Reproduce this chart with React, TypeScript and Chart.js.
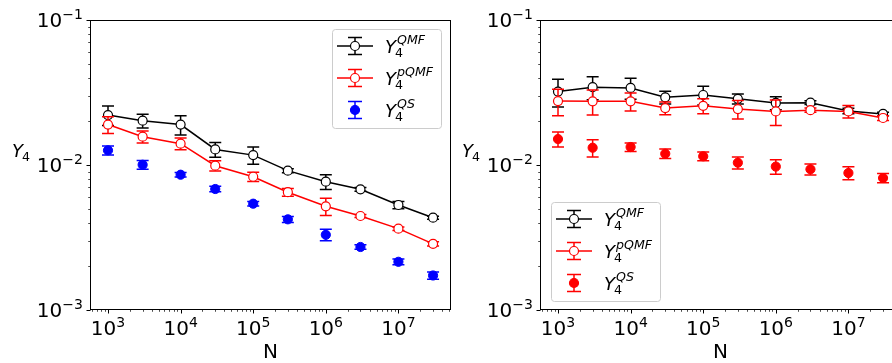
import React, { useEffect, useRef } from "react";
import { Chart, registerables } from "chart.js";

Chart.register(...registerables);

// ---------- data ----------
const N_VALUES = [1e3, 3e3, 1e4, 3e4, 1e5, 3e5, 1e6, 3e6, 1e7, 3e7];

// tick labels: "10" with a superscript exponent
const X_TICK_EXPONENTS = [3, 4, 5, 6, 7];
const X_TICK_SUPS = ["3", "4", "5", "6", "7"];
const Y_TICK_EXPONENTS = [-3, -2, -1];
const Y_TICK_SUPS = ["\u22123", "\u22122", "\u22121"];
const TICK_BASE = "10";

const X_AXIS_TITLE = "N";
const Y_AXIS_BASE = "Y";
const Y_AXIS_SUB = "4";

const SERIES_SUPS = ["QMF", "pQMF", "QS"];

const X_MIN = 565;
const X_MAX = 5.3e7;
const Y_MIN = 1e-3;
const Y_MAX = 1e-1;

// left panel
const LEFT_QMF = [0.0221, 0.0202, 0.019, 0.0128, 0.0117, 0.00914, 0.00767, 0.0068, 0.0053, 0.00433];
const LEFT_QMF_ERR = [0.0034, 0.0022, 0.0029, 0.0015, 0.0016, 0.0003, 0.0009, 0.0002, 0.0003, 0.0001];
const LEFT_PQMF = [0.019, 0.01567, 0.01403, 0.00989, 0.0083, 0.00649, 0.00519, 0.00445, 0.00364, 0.00286];
const LEFT_PQMF_ERR = [0.0025, 0.0015, 0.0013, 0.0008, 0.0006, 0.0004, 0.0007, 0.0001, 0.0001, 0.0001];
const LEFT_QS = [0.01262, 0.01004, 0.00857, 0.00683, 0.00541, 0.00422, 0.0033, 0.00272, 0.00215, 0.00173];
const LEFT_QS_ERR = [0.0009, 0.0007, 0.0003, 0.0003, 0.0002, 0.0002, 0.0003, 0.0001, 0.0001, 0.0001];

// right panel
const RIGHT_QMF = [0.0321, 0.0344, 0.034, 0.0293, 0.0304, 0.0286, 0.0268, 0.0269, 0.0236, 0.0225];
const RIGHT_QMF_ERR = [0.007, 0.0062, 0.0056, 0.003, 0.0045, 0.0023, 0.0028, 0.0008, 0.001, 0.0006];
const RIGHT_PQMF = [0.0276, 0.0275, 0.0275, 0.0247, 0.0256, 0.0243, 0.0234, 0.0239, 0.0234, 0.0211];
const RIGHT_PQMF_ERR = [0.0057, 0.0054, 0.0039, 0.0025, 0.003, 0.0035, 0.0047, 0.0008, 0.0023, 0.0008];
const RIGHT_QS = [0.0151, 0.01316, 0.0133, 0.01197, 0.01148, 0.01037, 0.00975, 0.00934, 0.00881, 0.00813];
const RIGHT_QS_ERR = [0.0018, 0.0018, 0.0009, 0.0009, 0.0008, 0.001, 0.0011, 0.0008, 0.0009, 0.0006];

// ---------- helpers ----------
const FONT = "'DejaVu Sans', sans-serif";
const TICK_SIZE = 20;
const TICK_SUP_SIZE = 14;

function isPow10(v: number) {
  const l = Math.log10(v);
  return Math.abs(l - Math.round(l)) < 1e-6;
}

function logTicks(min: number, max: number) {
  const out: { value: number }[] = [];
  const e0 = Math.floor(Math.log10(min));
  const e1 = Math.ceil(Math.log10(max));
  for (let e = e0; e <= e1; e++) {
    for (let m = 1; m <= 9; m++) {
      const v = m * Math.pow(10, e);
      if (v >= min * 0.999999 && v <= max * 1.000001) out.push({ value: v });
    }
  }
  return out;
}

function drawMathLabel(ctx: CanvasRenderingContext2D, x: number, baseY: number, sup: string | null, big: number) {
  const small = big * 0.7;
  ctx.fillStyle = "#000";
  ctx.textAlign = "left";
  ctx.textBaseline = "alphabetic";
  ctx.font = `italic ${big}px ${FONT}`;
  ctx.fillText(Y_AXIS_BASE, x, baseY);
  const w = ctx.measureText(Y_AXIS_BASE).width;
  ctx.font = `${small}px ${FONT}`;
  ctx.fillText(Y_AXIS_SUB, x + w - 1, baseY + 4);
  if (sup) {
    ctx.font = `italic ${small}px ${FONT}`;
    ctx.fillText(sup, x + w + 1, baseY - 9);
  }
}

function drawErrorBar(ctx: CanvasRenderingContext2D, x: number, yTop: number, yBot: number, cap: number, color: string) {
  ctx.strokeStyle = color;
  ctx.lineWidth = 1.5;
  ctx.beginPath();
  ctx.moveTo(x, yTop);
  ctx.lineTo(x, yBot);
  ctx.moveTo(x - cap, yTop);
  ctx.lineTo(x + cap, yTop);
  ctx.moveTo(x - cap, yBot);
  ctx.lineTo(x + cap, yBot);
  ctx.stroke();
}

function tickSup(v: number, exps: number[], sups: string[]) {
  if (!isPow10(v)) return null;
  const i = exps.indexOf(Math.round(Math.log10(v)));
  return i >= 0 ? sups[i] : null;
}

const decorPlugin = {
  id: "decor",
  beforeDatasetDraw(chart: any, args: any) {
    const ds = chart.data.datasets[args.index];
    if (!ds.errors) return;
    const ctx = chart.ctx as CanvasRenderingContext2D;
    const xs = chart.scales.x;
    const ys = chart.scales.y;
    const a = chart.chartArea;
    ctx.save();
    ctx.beginPath();
    ctx.rect(a.left, a.top, a.right - a.left, a.bottom - a.top);
    ctx.clip();
    ds.data.forEach((p: any, i: number) => {
      const e = ds.errors[i];
      const px = xs.getPixelForValue(p.x);
      const yT = ys.getPixelForValue(p.y + e);
      const yB = ys.getPixelForValue(Math.max(p.y - e, 1e-9));
      drawErrorBar(ctx, px, yT, yB, 6, ds.errColor);
    });
    ctx.restore();
  },
  afterDraw(chart: any) {
    const ctx = chart.ctx as CanvasRenderingContext2D;
    const a = chart.chartArea;
    const xs = chart.scales.x;
    const ys = chart.scales.y;
    ctx.save();
    // frame
    ctx.strokeStyle = "#000";
    ctx.lineWidth = 1;
    const L = Math.round(a.left) + 0.5;
    const R = Math.round(a.right) - 0.5;
    const T = Math.round(a.top) + 0.5;
    const B = Math.round(a.bottom) - 0.5;
    ctx.strokeRect(L, T, R - L, B - T);
    // tick marks + labels
    ctx.fillStyle = "#000";
    ctx.textBaseline = "alphabetic";
    ctx.textAlign = "left";
    xs.ticks.forEach((t: any) => {
      const raw = xs.getPixelForValue(t.value);
      const px = Math.round(raw) + 0.5;
      const major = isPow10(t.value);
      ctx.lineWidth = major ? 1 : 0.7;
      ctx.beginPath();
      ctx.moveTo(px, B);
      ctx.lineTo(px, B + (major ? 4 : 2.3));
      ctx.stroke();
      const sup = tickSup(t.value, X_TICK_EXPONENTS, X_TICK_SUPS);
      if (sup) {
        ctx.font = `${TICK_SIZE}px ${FONT}`;
        const wb = ctx.measureText(TICK_BASE).width;
        ctx.font = `${TICK_SUP_SIZE}px ${FONT}`;
        const ws = ctx.measureText(sup).width;
        const x0 = raw - (wb + ws) / 2;
        ctx.font = `${TICK_SIZE}px ${FONT}`;
        ctx.fillText(TICK_BASE, x0, a.bottom + 24.5);
        ctx.font = `${TICK_SUP_SIZE}px ${FONT}`;
        ctx.fillText(sup, x0 + wb, a.bottom + 16.5);
      }
    });
    ys.ticks.forEach((t: any) => {
      const raw = ys.getPixelForValue(t.value);
      const py = Math.round(raw) + 0.5;
      const major = isPow10(t.value);
      ctx.lineWidth = major ? 1 : 0.7;
      ctx.beginPath();
      ctx.moveTo(L, py);
      ctx.lineTo(L - (major ? 4 : 2.3), py);
      ctx.stroke();
      const sup = tickSup(t.value, Y_TICK_EXPONENTS, Y_TICK_SUPS);
      if (sup) {
        ctx.font = `${TICK_SIZE}px ${FONT}`;
        const wb = ctx.measureText(TICK_BASE).width;
        ctx.font = `${TICK_SUP_SIZE}px ${FONT}`;
        const ws = ctx.measureText(sup).width;
        const xEnd = a.left - 7.2;
        ctx.font = `${TICK_SIZE}px ${FONT}`;
        ctx.fillText(TICK_BASE, xEnd - ws - wb, raw + 7.2);
        ctx.font = `${TICK_SUP_SIZE}px ${FONT}`;
        ctx.fillText(sup, xEnd - ws, raw - 1);
      }
    });
    // axis titles
    ctx.font = `20px ${FONT}`;
    ctx.textAlign = "center";
    ctx.textBaseline = "alphabetic";
    ctx.fillText(X_AXIS_TITLE, (a.left + a.right) / 2, 358);
    drawMathLabel(ctx, a.left - 78, 157, null, 18);
    // legend
    const corner = chart.options.plugins.decor.corner;
    const bw = 109;
    const bh = 99;
    const bx = corner === "tr" ? a.right - 10 - bw : a.left + 11;
    const by = corner === "tr" ? a.top + 9 : a.bottom - 9 - bh;
    ctx.beginPath();
    (ctx as any).roundRect(bx + 0.5, by + 0.5, bw, bh, 3);
    ctx.fillStyle = "rgba(255,255,255,0.8)";
    ctx.fill();
    ctx.strokeStyle = "#cccccc";
    ctx.lineWidth = 1;
    ctx.stroke();
    const rows = [17, 49, 81];
    chart.data.datasets.forEach((ds: any, i: number) => {
      const cy = by + rows[i];
      const mx = bx + 23;
      if (ds.showLine) {
        ctx.strokeStyle = ds.borderColor;
        ctx.lineWidth = 1.5;
        ctx.beginPath();
        ctx.moveTo(bx + 5, cy);
        ctx.lineTo(bx + 41, cy);
        ctx.stroke();
      }
      drawErrorBar(ctx, mx, cy - 8.5, cy + 8.5, 7, ds.errColor);
      ctx.beginPath();
      ctx.arc(mx, cy, 4.5, 0, Math.PI * 2);
      ctx.fillStyle = ds.pointBackgroundColor;
      ctx.fill();
      ctx.strokeStyle = ds.pointBorderColor;
      ctx.lineWidth = 1.2;
      ctx.stroke();
      drawMathLabel(ctx, bx + 53, cy + 6.5, SERIES_SUPS[i], 18);
    });
    ctx.restore();
  },
};

function pts(vals: number[]) {
  return N_VALUES.map((x, i) => ({ x, y: vals[i] }));
}

function makeConfig(
  qmf: number[], qmfErr: number[], pqmf: number[], pqmfErr: number[],
  qs: number[], qsErr: number[], qsColor: string, corner: string
): any {
  return {
    type: "scatter",
    data: {
      datasets: [
        {
          label: "QMF", data: pts(qmf), errors: qmfErr, errColor: "#000000",
          showLine: true, borderColor: "#000000", borderWidth: 1.5,
          pointRadius: 4.5, pointBorderWidth: 1.2, pointBorderColor: "#000000",
          pointBackgroundColor: "#ffffff", order: 3,
        },
        {
          label: "pQMF", data: pts(pqmf), errors: pqmfErr, errColor: "#ff0000",
          showLine: true, borderColor: "#ff0000", borderWidth: 1.5,
          pointRadius: 4.5, pointBorderWidth: 1.2, pointBorderColor: "#ff0000",
          pointBackgroundColor: "#ffffff", order: 2,
        },
        {
          label: "QS", data: pts(qs), errors: qsErr, errColor: qsColor,
          showLine: false, borderColor: qsColor,
          pointRadius: 4.6, pointBorderWidth: 1, pointBorderColor: qsColor,
          pointBackgroundColor: qsColor, order: 1,
        },
      ],
    },
    options: {
      responsive: false,
      animation: false,
      devicePixelRatio: 1,
      events: [],
      layout: { autoPadding: false, padding: { top: 20, right: 1, left: 0, bottom: 0 } },
      plugins: {
        legend: { display: false },
        tooltip: { enabled: false },
        decor: { corner },
      },
      scales: {
        x: {
          type: "logarithmic",
          min: X_MIN,
          max: X_MAX,
          grid: { display: false, drawTicks: false },
          border: { display: false },
          afterBuildTicks: (s: any) => { s.ticks = logTicks(X_MIN, X_MAX); },
          afterFit: (s: any) => { s.height = 53; },
          ticks: { display: false, autoSkip: false },
        },
        y: {
          type: "logarithmic",
          min: Y_MIN,
          max: Y_MAX,
          grid: { display: false, drawTicks: false },
          border: { display: false },
          afterBuildTicks: (s: any) => { s.ticks = logTicks(Y_MIN, Y_MAX); },
          afterFit: (s: any) => { s.width = 90; },
          ticks: { display: false, autoSkip: false },
        },
      },
    },
    plugins: [decorPlugin],
  };
}

function Panel({ left, config }: { left: number; config: () => any }) {
  const ref = useRef<HTMLCanvasElement>(null);
  useEffect(() => {
    const chart = new Chart(ref.current as HTMLCanvasElement, config());
    return () => chart.destroy();
  }, []);
  return (
    <canvas
      ref={ref}
      width={452}
      height={363}
      style={{ position: "absolute", left, top: 0, width: 452, height: 363 }}
    />
  );
}

export default function App() {
  return (
    <div
      style={{
        position: "fixed",
        left: 0,
        top: 0,
        width: 892,
        height: 363,
        overflow: "hidden",
        background: "#ffffff",
      }}
    >
      <Panel
        left={0}
        config={() =>
          makeConfig(LEFT_QMF, LEFT_QMF_ERR, LEFT_PQMF, LEFT_PQMF_ERR, LEFT_QS, LEFT_QS_ERR, "#0000ff", "tr")
        }
      />
      <Panel
        left={450}
        config={() =>
          makeConfig(RIGHT_QMF, RIGHT_QMF_ERR, RIGHT_PQMF, RIGHT_PQMF_ERR, RIGHT_QS, RIGHT_QS_ERR, "#ff0000", "bl")
        }
      />
    </div>
  );
}
